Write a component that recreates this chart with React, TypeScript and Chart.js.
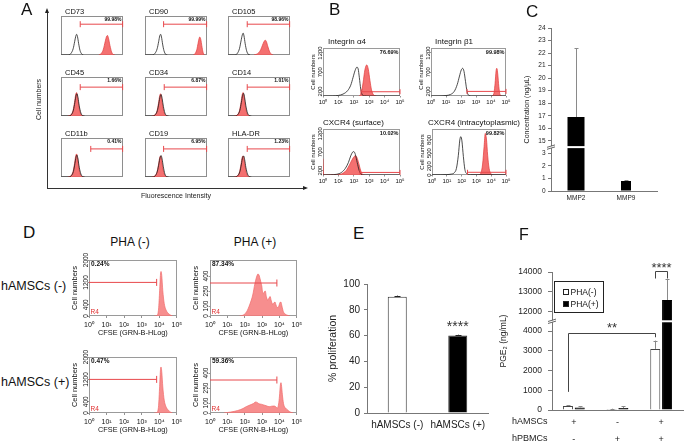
import React, { useEffect, useRef } from 'react';
import { Chart, registerables } from 'chart.js';

Chart.register(...registerables);

const FONT = "'Liberation Sans', Arial, Helvetica, sans-serif";
Chart.defaults.font.family = FONT;
Chart.defaults.color = '#000';

type Pt = [number, number];

// ================= DATA =================
// ---- Panel A : surface markers (x = log10 fluorescence, y = relative count) ----
const A_MARKERS = ['CD73', 'CD90', 'CD105', 'CD45', 'CD34', 'CD14', 'CD11b', 'CD19', 'HLA-DR'];
const A_PERCENTS = ['99.98%', '99.99%', '98.96%', '1.66%', '6.87%', '1.01%', '0.41%', '6.95%', '1.23%'];
const A_GATE_START = [1.55, 1.5, 1.55, 1.55, 1.55, 1.55, 2.4, 1.5, 1.55];
const A_GATE_END = [4.97, 4.97, 4.97, 4.97, 4.97, 4.97, 4.97, 4.97, 4.97];
const A_GATE_LEVEL = [79, 79, 79, 74, 74, 74, 72, 72, 72];

const A_CD73_ISO: Pt[] = [[0, 0], [0.55, 0], [0.8, 4], [0.98, 16], [1.1, 34], [1.19, 48], [1.26, 53], [1.33, 47], [1.42, 30], [1.53, 12], [1.66, 3], [1.8, 0]];
const A_CD73_POS: Pt[] = [[3.05, 0], [3.25, 4], [3.42, 15], [3.56, 34], [3.68, 48], [3.75, 50], [3.83, 43], [3.95, 24], [4.08, 8], [4.22, 1], [4.35, 0]];
const A_CD90_ISO: Pt[] = [[0, 0], [0.55, 0], [0.8, 4], [0.98, 16], [1.1, 34], [1.19, 49], [1.26, 53], [1.33, 46], [1.42, 28], [1.53, 11], [1.66, 2], [1.8, 0]];
const A_CD90_POS: Pt[] = [[3.9, 0], [4.05, 4], [4.18, 14], [4.28, 30], [4.36, 42], [4.42, 46], [4.5, 40], [4.58, 24], [4.68, 7], [4.78, 0]];
const A_CD105_ISO: Pt[] = [[0, 0], [0.5, 0], [0.75, 4], [0.93, 17], [1.05, 36], [1.15, 51], [1.22, 56], [1.29, 49], [1.38, 30], [1.5, 11], [1.63, 2], [1.78, 0]];
const A_CD105_POS: Pt[] = [[2.1, 0], [2.3, 2], [2.48, 6], [2.63, 13], [2.78, 25], [2.9, 34], [3.0, 38], [3.1, 34], [3.22, 21], [3.36, 8], [3.5, 2], [3.65, 0]];
const A_CD45_ISO: Pt[] = [[0, 0], [0.6, 0], [0.85, 4], [1.0, 15], [1.12, 35], [1.21, 52], [1.29, 57], [1.37, 47], [1.47, 26], [1.6, 8], [1.75, 1], [1.9, 0]];
const A_CD45_POS: Pt[] = [[0.55, 0], [0.8, 3], [0.97, 14], [1.09, 35], [1.18, 54], [1.26, 60], [1.33, 51], [1.43, 28], [1.55, 9], [1.68, 1], [1.82, 0]];
const A_CD34_ISO: Pt[] = [[0, 0], [0.6, 0], [0.85, 4], [1.0, 14], [1.12, 33], [1.22, 50], [1.3, 55], [1.38, 45], [1.48, 25], [1.6, 8], [1.75, 1], [1.9, 0]];
const A_CD34_POS: Pt[] = [[0.55, 0], [0.8, 3], [0.97, 13], [1.09, 33], [1.18, 51], [1.26, 57], [1.33, 48], [1.43, 26], [1.55, 8], [1.68, 1], [1.82, 0]];
const A_CD14_ISO: Pt[] = [[0, 0], [0.55, 0], [0.8, 4], [0.96, 15], [1.08, 35], [1.18, 53], [1.26, 58], [1.34, 47], [1.44, 26], [1.57, 8], [1.72, 1], [1.88, 0]];
const A_CD14_POS: Pt[] = [[0.5, 0], [0.75, 3], [0.93, 14], [1.05, 35], [1.14, 54], [1.22, 60], [1.29, 51], [1.39, 28], [1.51, 9], [1.64, 1], [1.78, 0]];
const A_CD11B_ISO: Pt[] = [[0, 0], [0.6, 0], [0.85, 4], [1.0, 14], [1.12, 34], [1.21, 51], [1.29, 56], [1.37, 46], [1.47, 25], [1.6, 8], [1.75, 1], [1.9, 0]];
const A_CD11B_POS: Pt[] = [[0.55, 0], [0.8, 3], [0.97, 14], [1.09, 34], [1.18, 53], [1.26, 59], [1.33, 50], [1.43, 27], [1.55, 8], [1.68, 1], [1.82, 0]];
const A_CD19_ISO: Pt[] = [[0, 0], [0.6, 0], [0.85, 4], [1.0, 15], [1.12, 34], [1.22, 50], [1.3, 55], [1.38, 46], [1.48, 26], [1.6, 8], [1.75, 1], [1.9, 0]];
const A_CD19_POS: Pt[] = [[0.55, 0], [0.8, 3], [0.97, 13], [1.09, 32], [1.18, 49], [1.26, 54], [1.33, 46], [1.43, 25], [1.55, 8], [1.68, 1], [1.82, 0]];
const A_HLADR_ISO: Pt[] = [[0, 0], [0.55, 0], [0.8, 4], [0.96, 14], [1.08, 33], [1.18, 50], [1.26, 54], [1.34, 45], [1.44, 25], [1.57, 8], [1.72, 1], [1.88, 0]];
const A_HLADR_POS: Pt[] = [[0.5, 0], [0.75, 3], [0.93, 13], [1.05, 33], [1.14, 50], [1.22, 54], [1.29, 47], [1.39, 26], [1.51, 8], [1.64, 1], [1.78, 0]];

const A_ISO = [A_CD73_ISO, A_CD90_ISO, A_CD105_ISO, A_CD45_ISO, A_CD34_ISO, A_CD14_ISO, A_CD11B_ISO, A_CD19_ISO, A_HLADR_ISO];
const A_POS = [A_CD73_POS, A_CD90_POS, A_CD105_POS, A_CD45_POS, A_CD34_POS, A_CD14_POS, A_CD11B_POS, A_CD19_POS, A_HLADR_POS];

// ---- Panel B : homing receptors ----
const LOG_TICKS = ['10⁰', '10¹', '10²', '10³', '10⁴', '10⁵'];
const B_TITLES = ['Integrin α4', 'Integrin β1', 'CXCR4 (surface)', 'CXCR4 (intracytoplasmic)'];
const B_PERCENTS = ['76.69%', '99.98%', '10.02%', '99.82%'];
const B_Y_MIN = [80, 80, 80, 0];
const B_Y_MAX = [1330, 1330, 1330, 1050];
const B_Y_TICKS = [[200, 700, 1200], [200, 700, 1200], [200, 700, 1200], [0, 200, 500, 800]];
const B_GATE_START = [2.47, 2.4, 2.4, 2.4];
const B_GATE_END = [5, 5, 5, 5];
const B_GATE_LEVEL = [191, 200, 150, 62];
const B_A4_ISO: Pt[] = [[0, 80], [0.6, 82], [1.0, 95], [1.3, 130], [1.6, 220], [1.8, 360], [1.95, 560], [2.08, 740], [2.2, 830], [2.28, 790], [2.36, 560], [2.45, 260], [2.55, 110], [2.7, 85], [3.0, 80], [5, 80]];
const B_A4_POS: Pt[] = [[2.35, 80], [2.48, 150], [2.6, 420], [2.72, 760], [2.84, 890], [2.94, 780], [3.05, 480], [3.15, 240], [3.28, 110], [3.45, 80]];
const B_B1_ISO: Pt[] = [[0, 80], [0.6, 82], [1.0, 92], [1.3, 120], [1.55, 200], [1.75, 380], [1.9, 600], [2.02, 760], [2.11, 800], [2.2, 720], [2.3, 460], [2.4, 200], [2.52, 95], [2.7, 80], [5, 80]];
const B_B1_POS: Pt[] = [[4.05, 80], [4.18, 130], [4.27, 400], [4.34, 740], [4.39, 800], [4.45, 650], [4.52, 330], [4.6, 120], [4.72, 80]];
const B_CXS_ISO: Pt[] = [[0, 80], [0.5, 85], [0.9, 100], [1.2, 150], [1.45, 260], [1.65, 420], [1.8, 600], [1.92, 700], [2.0, 715], [2.1, 640], [2.22, 420], [2.35, 200], [2.48, 100], [2.6, 80], [5, 80]];
const B_CXS_POS: Pt[] = [[0, 520], [0.04, 80], [0.8, 85], [1.2, 110], [1.5, 200], [1.75, 380], [1.95, 540], [2.1, 605], [2.2, 560], [2.32, 400], [2.45, 200], [2.58, 90], [2.7, 80]];
const B_CXI_ISO: Pt[] = [[0, 5], [0.6, 5], [1.0, 10], [1.3, 20], [1.5, 50], [1.65, 150], [1.78, 450], [1.88, 800], [1.95, 875], [2.02, 780], [2.12, 420], [2.22, 130], [2.35, 30], [2.6, 8], [5, 5]];
const B_CXI_POS: Pt[] = [[3.15, 0], [3.3, 40], [3.42, 250], [3.52, 650], [3.6, 950], [3.68, 820], [3.76, 450], [3.86, 150], [3.98, 30], [4.1, 0]];
const B_ISO = [B_A4_ISO, B_B1_ISO, B_CXS_ISO, B_CXI_ISO];
const B_POS = [B_A4_POS, B_B1_POS, B_CXS_POS, B_CXI_POS];

// ---- Panel C : MMP secretion ----
const C_LABELS = ['MMP2', 'MMP9'];
const C_MEAN = [16.9, 0.8];
const C_SD = [5.5, 0.05];
const C_TICKS = [0, 1, 2, 3, 15, 16, 17, 18, 19, 20, 21, 22, 23, 24];
const C_BREAK = [3.5, 14.5];

// ---- Panel D : CFSE proliferation ----
const D_PERCENTS = ['0.24%', '87.34%', '0.47%', '59.36%'];
const D_Y_MAX = [2000, 560, 2000, 560];
const D_Y_TICKS = [[0, 400, 1200, 2000], [0, 100, 250, 400], [0, 400, 1200, 2000], [0, 100, 250, 400]];
const D_GATE_START = [0, 0, 0, 0];
const D_GATE_END = [3.85, 3.85, 3.85, 3.85];
const D_GATE_LEVEL = [1200, 330, 1200, 330];
const D_NEG_NEG: Pt[] = [[3.7, 0], [3.88, 30], [3.96, 250], [4.02, 900], [4.07, 1500], [4.1, 1590], [4.14, 1450], [4.2, 900], [4.28, 450], [4.38, 220], [4.5, 100], [4.62, 40], [4.75, 0]];
const D_NEG_POS: Pt[] = [[1.7, 0], [1.9, 8], [2.1, 40], [2.3, 120], [2.46, 210], [2.58, 320], [2.68, 390], [2.76, 420], [2.82, 410], [2.9, 360], [2.98, 300], [3.05, 220], [3.12, 240], [3.18, 250], [3.25, 190], [3.32, 160], [3.4, 180], [3.46, 195], [3.53, 150], [3.6, 120], [3.67, 130], [3.74, 140], [3.8, 110], [3.88, 85], [3.95, 95], [4.03, 135], [4.08, 140], [4.14, 100], [4.22, 45], [4.32, 20], [4.45, 8], [4.6, 0]];
const D_POS_NEG: Pt[] = [[3.7, 0], [3.88, 30], [3.96, 260], [4.02, 950], [4.07, 1560], [4.1, 1640], [4.14, 1480], [4.2, 930], [4.28, 460], [4.38, 230], [4.5, 110], [4.62, 40], [4.75, 0]];
const D_POS_POS: Pt[] = [[0.8, 0], [1.2, 10], [1.6, 25], [1.9, 45], [2.1, 65], [2.3, 80], [2.5, 95], [2.62, 110], [2.72, 105], [2.82, 92], [2.95, 88], [3.1, 80], [3.25, 72], [3.4, 63], [3.55, 68], [3.7, 70], [3.8, 60], [3.88, 50], [3.95, 90], [4.0, 170], [4.05, 280], [4.09, 303], [4.13, 250], [4.18, 160], [4.25, 80], [4.35, 50], [4.5, 25], [4.65, 8], [4.8, 0]];
const D_HISTS = [D_NEG_NEG, D_NEG_POS, D_POS_NEG, D_POS_POS];

// ---- Panel E : % proliferation ----
const E_LABELS = ['hAMSCs (-)', 'hAMSCs (+)'];
const E_MEAN = [90.2, 60.1];
const E_SEM = [0.8, 0.6];

// ---- Panel F : PGE2 ----
const F_HAMSCS = ['+', '-', '+'];
const F_HPBMCS = ['-', '+', '+'];
const F_PHA_NEG = [200, 50, 3100];
const F_PHA_POS = [130, 100, 12580];
const F_PHA_NEG_SD = [50, 15, 420];
const F_PHA_POS_SD = [60, 90, 1050];
const F_TICKS = [0, 1000, 2000, 3000, 4000, 12000, 13000, 14000];
const F_BREAK = [4500, 11500];
const F_SIG = [
  { a: [0, 0], b: [0, 2], top: 3900, aEnd: 920, bEnd: 3690, text: '**', textAt: 4120 },
  { a: [0, 2], b: [1, 2], top: 14030, aEnd: 13670, bEnd: 13670, text: '****', textAt: 14180 },
];

// ================= HELPERS =================
const RED_FILL = 'rgba(242, 92, 92, 0.88)';
const RED_EDGE = '#e13a3a';
const D_FILL = 'rgba(246, 122, 122, 0.85)';
const D_EDGE = '#f06a6a';
const GATE_RED = '#e8484c';

const xy = (pts: Pt[]) => pts.map(([x, y]) => ({ x, y }));
const cMap = (v: number) => (v <= C_BREAK[0] ? v : v - (C_BREAK[1] - C_BREAK[0]));
const fMap = (v: number) => (v <= F_BREAK[0] ? v : v - (F_BREAK[1] - F_BREAK[0]));

const baseOptions = () => ({
  responsive: false,
  animation: false,
  devicePixelRatio: 1,
  events: [],
  plugins: { legend: { display: false }, tooltip: { enabled: false }, title: { display: false } },
});

const framePlugin = (color: string) => ({
  id: 'frame',
  beforeDatasetsDraw(chart: any) {
    const { ctx, chartArea: a } = chart;
    ctx.save();
    ctx.strokeStyle = color;
    ctx.lineWidth = 1;
    ctx.strokeRect(Math.round(a.left) + 0.5, Math.round(a.top) + 0.5, Math.round(a.right - a.left) - 1, Math.round(a.bottom - a.top) - 1);
    ctx.restore();
  },
});

// extends the x axis line past the last category (as in the reference panel C)
const axisExtendPlugin = (extra: number, color: string) => ({
  id: 'axisExtend',
  afterDraw(chart: any) {
    const { ctx, chartArea: a } = chart;
    ctx.save();
    ctx.strokeStyle = color;
    ctx.lineWidth = 1;
    ctx.beginPath();
    ctx.moveTo(a.right - 1, Math.round(a.bottom) + 0.5);
    ctx.lineTo(a.right + extra, Math.round(a.bottom) + 0.5);
    ctx.stroke();
    ctx.restore();
  },
});

type Note = { text: string; x: number; y: number; ax?: string; ay?: string; font: string; color?: string; align?: string; rotate?: number };
const notesPlugin = (items: Note[]) => ({
  id: 'notes',
  afterDraw(chart: any) {
    const { ctx, chartArea: a, scales } = chart;
    items.forEach((it) => {
      const x = it.ax === 'v' ? scales.x.getPixelForValue(it.x) : it.ax === 'r' ? a.right + it.x : a.left + it.x;
      const y = it.ay === 'v' ? scales.y.getPixelForValue(it.y) : it.ay === 'b' ? a.bottom + it.y : a.top + it.y;
      ctx.save();
      ctx.font = it.font;
      ctx.fillStyle = it.color || '#000';
      ctx.textAlign = it.align || 'left';
      ctx.textBaseline = 'middle';
      ctx.translate(x, y);
      if (it.rotate) ctx.rotate((it.rotate * Math.PI) / 180);
      ctx.fillText(it.text, 0, 0);
      ctx.restore();
    });
  },
});

const errorBarsPlugin = (cap: number) => ({
  id: 'errorBars',
  afterDatasetsDraw(chart: any) {
    const { ctx } = chart;
    const y = chart.scales.y;
    chart.data.datasets.forEach((ds: any, i: number) => {
      if (!ds.errorTop) return;
      const meta = chart.getDatasetMeta(i);
      meta.data.forEach((bar: any, j: number) => {
        const e = ds.errorTop[j];
        if (e == null || ds.data[j] == null) return;
        const yt = y.getPixelForValue(e);
        const x = Math.round(bar.x) + 0.5;
        ctx.save();
        ctx.strokeStyle = ds.errorColor || '#000';
        ctx.lineWidth = 1;
        ctx.beginPath();
        ctx.moveTo(x, bar.y);
        ctx.lineTo(x, yt);
        ctx.moveTo(x - cap, Math.round(yt) + 0.5);
        ctx.lineTo(x + cap, Math.round(yt) + 0.5);
        ctx.stroke();
        ctx.restore();
      });
    });
  },
});

const breakPlugin = (at: number, gap: number) => ({
  id: 'axisBreak',
  afterDatasetsDraw(chart: any) {
    const { ctx, chartArea: a } = chart;
    const yp = chart.scales.y.getPixelForValue(at);
    ctx.save();
    ctx.fillStyle = '#fff';
    ctx.fillRect(a.left - 4, yp - gap / 2, a.right - a.left + 4, gap);
    ctx.strokeStyle = '#555';
    ctx.lineWidth = 0.9;
    ctx.beginPath();
    ctx.moveTo(a.left - 4, yp - gap / 2 + 1.2);
    ctx.lineTo(a.left + 4, yp - gap / 2 - 1.2);
    ctx.moveTo(a.left - 4, yp + gap / 2 + 1.2);
    ctx.lineTo(a.left + 4, yp + gap / 2 - 1.2);
    ctx.stroke();
    ctx.restore();
  },
});

const arrowPlugin = {
  id: 'arrows',
  afterDraw(chart: any) {
    const { ctx, chartArea: a } = chart;
    ctx.save();
    ctx.fillStyle = '#222';
    ctx.beginPath();
    ctx.moveTo(a.left, a.top - 3);
    ctx.lineTo(a.left - 2, a.top + 2);
    ctx.lineTo(a.left + 2, a.top + 2);
    ctx.closePath();
    ctx.fill();
    ctx.beginPath();
    ctx.moveTo(a.right + 3, a.bottom);
    ctx.lineTo(a.right - 2, a.bottom - 2);
    ctx.lineTo(a.right - 2, a.bottom + 2);
    ctx.closePath();
    ctx.fill();
    ctx.restore();
  },
};

const bracketPlugin = {
  id: 'brackets',
  afterDraw(chart: any) {
    const { ctx } = chart;
    const y = chart.scales.y;
    F_SIG.forEach((b) => {
      const xa = Math.round(chart.getDatasetMeta(b.a[0]).data[b.a[1]].x) + 0.5;
      const xb = Math.round(chart.getDatasetMeta(b.b[0]).data[b.b[1]].x) + 0.5;
      const yt = Math.round(y.getPixelForValue(fMap(b.top))) + 0.5;
      ctx.save();
      ctx.strokeStyle = '#444';
      ctx.lineWidth = 1;
      ctx.beginPath();
      ctx.moveTo(xa, y.getPixelForValue(fMap(b.aEnd)));
      ctx.lineTo(xa, yt);
      ctx.lineTo(xb, yt);
      ctx.lineTo(xb, y.getPixelForValue(fMap(b.bEnd)));
      ctx.stroke();
      ctx.font = `13px ${FONT}`;
      ctx.fillStyle = '#333';
      ctx.textAlign = 'center';
      ctx.textBaseline = 'middle';
      ctx.fillText(b.text, (xa + xb) / 2, y.getPixelForValue(fMap(b.textAt)));
      ctx.restore();
    });
  },
};

const boxLegendPlugin = {
  id: 'boxLegend',
  afterDraw(chart: any) {
    const { ctx, chartArea: a } = chart;
    const x0 = Math.round(a.left) + 2.5;
    const y0 = Math.round(a.top) + 9.5;
    ctx.save();
    ctx.strokeStyle = '#222';
    ctx.lineWidth = 1;
    ctx.strokeRect(x0, y0, 49, 31);
    chart.data.datasets.forEach((ds: any, i: number) => {
      const cy = Math.round(y0 + 10 + i * 12);
      ctx.fillStyle = ds.backgroundColor;
      ctx.fillRect(x0 + 8.5, cy - 3, 6, 6);
      ctx.strokeStyle = '#222';
      ctx.strokeRect(x0 + 9, cy - 2.5, 5, 5);
      ctx.fillStyle = '#111';
      ctx.font = `8.5px ${FONT}`;
      ctx.textBaseline = 'middle';
      ctx.textAlign = 'left';
      ctx.fillText(ds.label, x0 + 16, cy + 0.5);
    });
    ctx.restore();
  },
};

const gateDataset = (start: number, end: number, level: number, radius: any) => ({
  data: xy([[start, level], [end, level]]),
  borderColor: GATE_RED,
  borderWidth: 1,
  pointStyle: 'line',
  pointRotation: 90,
  pointRadius: radius,
  pointBorderColor: GATE_RED,
  pointBorderWidth: 1,
  pointBackgroundColor: GATE_RED,
  clip: false,
  order: 0,
});
const outlineDataset = (pts: Pt[]) => ({
  data: xy(pts),
  borderColor: '#1e1e1e',
  borderWidth: 0.8,
  pointRadius: 0,
  fill: false,
  cubicInterpolationMode: 'monotone',
  order: 1,
});
const filledDataset = (pts: Pt[], fillColor: string, edge: string) => ({
  data: xy(pts),
  borderColor: edge,
  borderWidth: 0.7,
  backgroundColor: fillColor,
  fill: 'start',
  pointRadius: 0,
  cubicInterpolationMode: 'monotone',
  order: 2,
});

const logXAxis = (font: number, tl: number, pad: number, height: number, title: any) => ({
  type: 'linear',
  min: 0,
  max: 5,
  afterFit: (s: any) => { s.height = height; },
  border: { display: false },
  grid: { display: true, drawOnChartArea: false, tickLength: tl, color: '#777', lineWidth: 0.8 },
  ticks: { stepSize: 1, autoSkip: false, maxRotation: 0, font: { size: font }, padding: pad, color: '#111', callback: (v: number) => LOG_TICKS[Math.round(v)] },
  title,
});
const countYAxis = (min: number, max: number, ticks: number[], font: number, pad: number, width: number, title: any) => ({
  type: 'linear',
  min,
  max,
  afterFit: (s: any) => { s.width = width; },
  afterBuildTicks: (s: any) => { s.ticks = ticks.map((v) => ({ value: v })); },
  border: { display: false },
  grid: { display: true, drawOnChartArea: false, tickLength: 1.5, color: '#777', lineWidth: 0.8 },
  ticks: { autoSkip: false, minRotation: 90, maxRotation: 90, crossAlign: 'center', font: { size: font }, padding: pad, color: '#111', callback: (v: number) => String(v) },
  title,
});

// ================= CONFIGS =================
function frameConfig() {
  return {
    type: 'line',
    data: { datasets: [] },
    options: {
      ...baseOptions(),
      layout: { padding: { top: 6, right: 8, left: 0, bottom: 0 } },
      scales: {
        x: {
          type: 'linear', min: 0, max: 1,
          afterFit: (s: any) => { s.height = 17; },
          ticks: { display: false },
          grid: { display: false, drawTicks: false },
          border: { display: true, color: '#333' },
          title: { display: true, text: 'Fluorescence Intensity', font: { size: 7 }, color: '#222', padding: { top: 0, bottom: 4.8 } },
        },
        y: {
          type: 'linear', min: 0, max: 1,
          afterFit: (s: any) => { s.width = 19; },
          ticks: { display: false },
          grid: { display: false, drawTicks: false },
          border: { display: true, color: '#333' },
          title: { display: true, text: 'Cell numbers', font: { size: 7 }, color: '#222', padding: { top: 6.8, bottom: 0 } },
        },
      },
    },
    plugins: [arrowPlugin],
  };
}

function aConfig(i: number) {
  return {
    type: 'line',
    data: {
      datasets: [
        gateDataset(A_GATE_START[i], A_GATE_END[i], A_GATE_LEVEL[i], 3),
        outlineDataset(A_ISO[i]),
        filledDataset(A_POS[i], RED_FILL, RED_EDGE),
      ],
    },
    options: {
      ...baseOptions(),
      layout: { padding: { left: 1, right: 1, top: 11, bottom: 1 } },
      scales: {
        x: { type: 'linear', min: 0, max: 5, display: false },
        y: { type: 'linear', min: 0, max: 100, display: false },
      },
    },
    plugins: [
      framePlugin('#8e8e8e'),
      notesPlugin([
        { text: A_MARKERS[i], x: 4, y: -4.5, font: `7.5px ${FONT}`, color: '#111' },
        { text: A_PERCENTS[i], x: -1.5, ax: 'r', y: 3.5, font: `bold 5px ${FONT}`, align: 'right', color: '#111' },
      ]),
    ],
  };
}

const B_TITLE_DX = [5, 4, 0, -4];
const B_TICK_PAD = [-5.7, -5.7, -5.7, -4];
function bConfig(i: number) {
  return {
    type: 'line',
    data: {
      datasets: [
        gateDataset(B_GATE_START[i], B_GATE_END[i], B_GATE_LEVEL[i], 2.5),
        outlineDataset(B_ISO[i]),
        filledDataset(B_POS[i], RED_FILL, RED_EDGE),
      ],
    },
    options: {
      ...baseOptions(),
      layout: { padding: { left: 0, right: 25, top: 12, bottom: 0 } },
      scales: {
        x: logXAxis(6, 1.5, 1, 12, { display: false }),
        y: countYAxis(B_Y_MIN[i], B_Y_MAX[i], B_Y_TICKS[i], 6, B_TICK_PAD[i], 18, {
          display: true, text: 'Cell numbers', font: { size: 6 }, color: '#111', padding: { top: 4.4, bottom: 0 },
        }),
      },
    },
    plugins: [
      framePlugin('#9a9a9a'),
      notesPlugin([
        { text: B_TITLES[i], x: B_TITLE_DX[i], y: -6, font: `8px ${FONT}`, color: '#111' },
        { text: B_PERCENTS[i], x: -1.5, ax: 'r', y: 4, font: `bold 5.5px ${FONT}`, align: 'right', color: '#111' },
      ]),
    ],
  };
}

const D_TICK_PAD = [-5.5, -3.5, -5.5, -3.5];
function dConfig(i: number) {
  return {
    type: 'line',
    data: {
      datasets: [
        gateDataset(D_GATE_START[i], D_GATE_END[i], D_GATE_LEVEL[i], [0, 3.5]),
        filledDataset(D_HISTS[i], D_FILL, D_EDGE),
      ],
    },
    options: {
      ...baseOptions(),
      layout: { padding: { left: 0, right: 7, top: 8, bottom: 0 } },
      scales: {
        x: logXAxis(7, 2, 2.8, 22, {
          display: true, text: 'CFSE (GRN-B-HLog)', font: { size: 7.3 }, color: '#111', padding: { top: 0, bottom: 0.8 },
        }),
        y: countYAxis(0, D_Y_MAX[i], D_Y_TICKS[i], 6.5, D_TICK_PAD[i], 19, {
          display: true, text: 'Cell numbers', font: { size: 7.5 }, color: '#111', padding: { top: 0.6, bottom: 0 },
        }),
      },
    },
    plugins: [
      framePlugin('#9a9a9a'),
      notesPlugin([
        { text: D_PERCENTS[i], x: 2, y: 4.5, font: `bold 6.5px ${FONT}`, color: '#111' },
        { text: 'R4', x: 1.5, ay: 'b', y: -3.5, font: `6.5px ${FONT}`, color: '#e03030' },
      ]),
    ],
  };
}

function cConfig() {
  return {
    type: 'bar',
    data: {
      labels: C_LABELS,
      datasets: [
        {
          label: C_LABELS[0],
          data: C_MEAN.map((v, j) => (j === 0 ? cMap(v) : null)),
          errorTop: C_MEAN.map((v, j) => (j === 0 ? cMap(v + C_SD[j]) : null)),
          errorColor: '#8a8a8a',
          backgroundColor: '#000',
          barPercentage: 0.34,
          categoryPercentage: 1,
          grouped: false,
        },
        {
          label: C_LABELS[1],
          data: C_MEAN.map((v, j) => (j === 1 ? cMap(v) : null)),
          errorTop: C_MEAN.map((v, j) => (j === 1 ? cMap(v + C_SD[j]) : null)),
          errorColor: '#8a8a8a',
          backgroundColor: '#000',
          barPercentage: 0.2,
          categoryPercentage: 1,
          grouped: false,
        },
      ],
    },
    options: {
      ...baseOptions(),
      layout: { padding: { left: 0, right: 29, top: 8, bottom: 0 } },
      scales: {
        x: {
          afterFit: (s: any) => { s.height = 14; },
          grid: { display: false, drawTicks: false },
          border: { color: '#777' },
          ticks: { font: { size: 6.5 }, padding: 3, color: '#222' },
        },
        y: {
          min: 0,
          max: cMap(C_TICKS[C_TICKS.length - 1]),
          afterFit: (s: any) => { s.width = 33; },
          afterBuildTicks: (s: any) => { s.ticks = C_TICKS.map((v) => ({ value: cMap(v) })); },
          grid: { display: true, drawOnChartArea: false, tickLength: 3, color: '#777' },
          border: { color: '#777' },
          ticks: { font: { size: 6.5 }, padding: 2.5, color: '#222', autoSkip: false, callback: (_v: number, idx: number) => String(C_TICKS[idx]) },
          title: { display: true, text: 'Concentration (ng/µL)', font: { size: 7 }, color: '#222', padding: { top: 4.8, bottom: 0 } },
        },
      },
    },
    plugins: [errorBarsPlugin(2), breakPlugin((C_BREAK[0] + cMap(C_BREAK[1] + 0.5)) / 2 - 0.25, 2), axisExtendPlugin(7, '#777')],
  };
}

function eConfig() {
  return {
    type: 'bar',
    data: {
      labels: E_LABELS,
      datasets: [
        {
          label: '% proliferation',
          data: E_MEAN,
          errorTop: E_MEAN.map((v, j) => v + E_SEM[j]),
          errorColor: '#222',
          backgroundColor: ['#ffffff', '#000000'],
          borderColor: '#333',
          borderWidth: 1,
          barPercentage: 0.314,
          categoryPercentage: 1,
        },
      ],
    },
    options: {
      ...baseOptions(),
      layout: { padding: { left: 0, right: 5, top: 14, bottom: 0 } },
      scales: {
        x: {
          afterFit: (s: any) => { s.height = 27; },
          grid: { display: false, drawTicks: false },
          border: { color: '#777' },
          ticks: { font: { size: 10 }, padding: 6, color: '#222', minRotation: 0, maxRotation: 0, autoSkip: false },
        },
        y: {
          min: 0,
          max: 100,
          afterFit: (s: any) => { s.width = 49; },
          grid: { display: true, drawOnChartArea: false, tickLength: 3, color: '#777' },
          border: { color: '#777' },
          ticks: { stepSize: 10, font: { size: 10 }, padding: 4, color: '#222' },
          title: { display: true, text: '% proliferation', font: { size: 10.5 }, color: '#222', padding: { top: 8.7, bottom: 0 } },
        },
      },
    },
    plugins: [
      errorBarsPlugin(3),
      notesPlugin([{ text: '****', x: 1, ax: 'v', y: 66.7, ay: 'v', font: `14px ${FONT}`, align: 'center', color: '#333' }]),
    ],
  };
}

function fConfig() {
  return {
    type: 'bar',
    data: {
      labels: F_HAMSCS.map((a, j) => [a, F_HPBMCS[j]]),
      datasets: [
        {
          label: 'PHA(-)',
          data: F_PHA_NEG.map(fMap),
          errorTop: F_PHA_NEG.map((v, j) => fMap(v + F_PHA_NEG_SD[j])),
          errorColor: '#8a8a8a',
          backgroundColor: '#ffffff',
          borderColor: '#444',
          borderWidth: 1,
          barPercentage: 0.85,
          categoryPercentage: 0.54,
        },
        {
          label: 'PHA(+)',
          data: F_PHA_POS.map(fMap),
          errorTop: F_PHA_POS.map((v, j) => fMap(v + F_PHA_POS_SD[j])),
          errorColor: '#8a8a8a',
          backgroundColor: '#000000',
          borderColor: '#000',
          borderWidth: 1,
          barPercentage: 0.85,
          categoryPercentage: 0.54,
        },
      ],
    },
    options: {
      ...baseOptions(),
      layout: { padding: { left: 0, right: 2, top: 14, bottom: 0 } },
      scales: {
        x: {
          afterFit: (s: any) => { s.height = 34; },
          grid: { display: false, drawTicks: false },
          border: { color: '#777' },
          ticks: { font: { size: 9, lineHeight: 1.9 }, padding: 4, color: '#222', minRotation: 0, maxRotation: 0, autoSkip: false },
        },
        y: {
          min: 0,
          max: fMap(F_TICKS[F_TICKS.length - 1]),
          afterFit: (s: any) => { s.width = 57; },
          afterBuildTicks: (s: any) => { s.ticks = F_TICKS.map((v) => ({ value: fMap(v) })); },
          grid: { display: true, drawOnChartArea: false, tickLength: 4, color: '#777' },
          border: { color: '#777' },
          ticks: { font: { size: 8.5 }, padding: 6, color: '#222', autoSkip: false, callback: (_v: number, idx: number) => String(F_TICKS[idx]) },
          title: { display: true, text: 'PGE₂ (ng/mL)', font: { size: 8.5 }, color: '#222', padding: { top: 3.9, bottom: 0 } },
        },
      },
    },
    plugins: [
      errorBarsPlugin(2),
      breakPlugin(F_BREAK[0], 2),
      bracketPlugin,
      boxLegendPlugin,
      notesPlugin([
        { text: 'hAMSCs', x: -40, ay: 'b', y: 12, font: `9px ${FONT}`, color: '#222' },
        { text: 'hPBMCs', x: -40, ay: 'b', y: 29, font: `9px ${FONT}`, color: '#222' },
      ]),
    ],
  };
}

// ================= LAYOUT =================
const A_COL_X = [57, 141, 224];
const A_ROW_Y = [16, 77, 138];
const B_AREA = [[323, 48, 77, 48], [431, 48, 75, 48], [323, 129, 77, 46], [432, 129, 74, 46]];
const D_AREA = [[89, 260, 89, 56], [210, 260, 88, 56], [89, 357, 89, 56], [210, 357, 88, 56]];

function ChartBox({ x, y, w, h, cfg }: { x: number; y: number; w: number; h: number; cfg: () => any }) {
  const ref = useRef<HTMLCanvasElement | null>(null);
  useEffect(() => {
    const chart = new Chart(ref.current as HTMLCanvasElement, cfg());
    return () => chart.destroy();
  }, []);
  return <canvas ref={ref} width={w} height={h} style={{ position: 'absolute', left: x, top: y, width: w, height: h }} />;
}

function Label({ x, y, size, text, center }: { x: number; y: number; size: number; text: string; center?: boolean }) {
  return (
    <div
      style={{
        position: 'absolute', left: x, top: y, fontSize: size, lineHeight: 1, fontFamily: FONT, color: '#111',
        whiteSpace: 'nowrap', transform: center ? 'translate(-50%, -50%)' : 'translateY(-50%)',
      }}
    >
      {text}
    </div>
  );
}

export default function App() {
  return (
    <div style={{ position: 'fixed', left: 0, top: 0, width: 685, height: 444, background: '#fff', overflow: 'hidden' }}>
      <ChartBox x={28} y={5} w={285} h={200} cfg={frameConfig} />
      {A_MARKERS.map((m, i) => (
        <ChartBox key={m} x={A_COL_X[i % 3] - 1} y={A_ROW_Y[Math.floor(i / 3)] - 11} w={72} h={55} cfg={() => aConfig(i)} />
      ))}
      {B_AREA.map((b, i) => (
        <ChartBox key={'b' + i} x={b[0] - 18} y={b[1] - 12} w={b[2] + 43} h={b[3] + 24} cfg={() => bConfig(i)} />
      ))}
      <ChartBox x={518} y={20} w={162} h={185} cfg={cConfig} />
      {D_AREA.map((d, i) => (
        <ChartBox key={'d' + i} x={d[0] - 19} y={d[1] - 8} w={d[2] + 26} h={d[3] + 30} cfg={() => dConfig(i)} />
      ))}
      <ChartBox x={318} y={270} w={175} h={170} cfg={eConfig} />
      <ChartBox x={495} y={258} w={190} h={186} cfg={fConfig} />

      <Label x={21} y={9} size={17} text="A" />
      <Label x={329} y={9} size={17} text="B" />
      <Label x={526} y={10.5} size={17} text="C" />
      <Label x={23} y={232} size={17} text="D" />
      <Label x={353} y={232.5} size={17} text="E" />
      <Label x={519} y={235} size={16} text="F" />
      <Label x={130} y={242} size={12} text="PHA (-)" center />
      <Label x={255} y={242} size={12} text="PHA (+)" center />
      <Label x={1} y={286} size={12.5} text="hAMSCs (-)" />
      <Label x={1} y={382} size={12.5} text="hAMSCs (+)" />
    </div>
  );
}
